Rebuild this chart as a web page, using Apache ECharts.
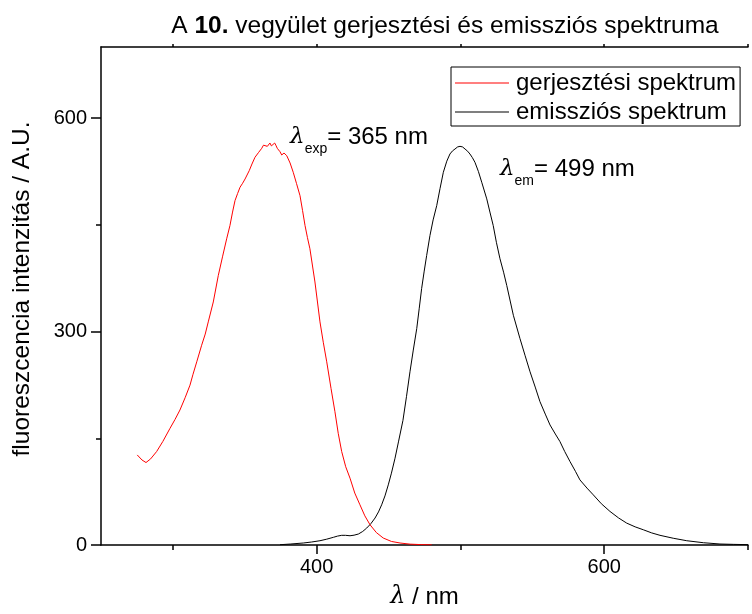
<!DOCTYPE html>
<html>
<head>
<meta charset="utf-8">
<script src="https://cdn.jsdelivr.net/npm/echarts@6/dist/echarts.min.js"></script>
<style>html,body{margin:0;padding:0;background:#fff}#c{width:752px;height:614px}</style>
</head>
<body>
<div id="c"></div>
<script>
// Excitation spectrum (wavelength nm, intensity)
const excX = [275.2,278.5,281.3,284.5,288.7,293.0,298.0,301.5,304.9,308.5,311.9,314.0,316.6,320.0,322.5,324.6,328.1,331.6,334.5,337.4,339.7,341.5,343.2,345.0,346.7,348.5,350.2,353.1,355.0,357.1,359.5,361.8,363.0,364.1,365.7,366.5,367.5,368.5,369.4,370.8,371.6,372.6,374.5,375.7,377.3,379.2,381.5,383.7,386.0,388.4,390.2,391.9,393.6,395.3,398.8,402.3,404.6,407.0,410.0,412.7,415.0,417.4,420.2,423.2,426.5,430.1,433.5,437.1,441.5,446.3,452.0,458.0,465.0,472.0,480.0];
const excY = [126.6,119.5,115.9,121.0,131.4,145.5,164.0,176.5,189.7,207.0,224.7,240.0,257.5,280.8,296.5,313.6,341.6,379.0,405.0,430.4,449.1,468.0,484.1,494.0,502.9,508.5,514.5,526.2,535.5,545.0,551.5,557.6,562.0,563.6,560.4,563.0,565.0,561.0,559.0,565.0,562.0,557.6,552.8,548.2,551.0,547.2,537.0,523.9,508.0,491.1,470.0,449.1,432.0,416.4,369.7,313.6,285.0,257.5,220.0,187.4,157.0,131.4,110.0,93.9,73.0,56.5,41.0,28.5,17.5,9.8,5.0,2.8,1.2,0.6,0.2];
// Emission spectrum
const emX = [374.5,382.0,390.7,396.5,402.3,407.0,411.6,414.5,417.4,420.0,423.2,426.0,429.0,432.0,434.8,437.7,440.6,443.0,445.2,447.5,449.8,452.0,454.5,457.0,460.0,462.5,464.9,467.2,469.6,471.3,473.0,474.8,476.5,478.8,481.0,483.5,485.8,488.1,490.5,492.7,494.5,496.2,498.0,499.7,501.5,503.2,505.0,506.6,508.3,510.1,512.5,514.8,518.3,520.5,522.8,525.0,527.5,530.0,532.2,536.8,541.4,545.0,548.4,552.0,555.3,559.0,562.3,566.0,569.2,572.5,576.2,580.0,583.1,588.0,592.4,598.0,604.0,610.0,615.6,621.5,627.2,633.0,638.8,648.0,657.4,669.0,680.5,690.0,700.0];
const emY = [0.4,1.4,2.8,4.2,6.0,8.2,10.8,12.5,13.6,13.6,13.0,13.8,15.4,19.0,23.8,30.0,37.9,46.5,56.5,69.0,84.5,101.0,122.0,146.0,175.0,209.0,243.5,274.0,304.2,332.0,360.3,385.0,407.0,435.0,457.0,477.1,501.0,523.9,539.5,549.6,554.0,556.6,559.5,560.4,559.5,556.6,553.5,549.6,544.5,537.9,525.0,509.9,486.5,468.0,449.0,425.5,402.4,383.5,364.9,322.9,290.2,266.0,243.5,222.0,201.5,184.0,168.7,156.0,145.4,131.5,117.3,103.5,91.5,80.0,70.5,58.0,47.2,38.0,30.8,25.5,21.4,17.0,13.6,9.5,6.0,3.2,1.4,0.9,0.5];
const xLabelTicks = [400, 600];
const xMinorTicks = [300, 500, 700];
const yLabelTicks = [0, 300, 600];
const yMinorTicks = [150, 450];
const seriesNames = ['gerjesztési spektrum', 'emissziós spektrum'];
const titleParts = ['A ', '10.', ' vegyület gerjesztési és emissziós spektruma'];
const annExc = {x: 381.5, y: 573, sub: 'exp', text: '= 365 nm'};
const annEm = {x: 527.5, y: 528, sub: 'em', text: '= 499 nm'};

const F = 'Arial, "Liberation Sans", Helvetica, sans-serif';
const chart = echarts.init(document.getElementById('c'), null, {renderer: 'canvas'});
const pairs = (xs, ys) => xs.map((v, i) => [v, ys[i]]);
const axisLineStyle = {color: '#000', width: 1.5};
const option = {
  animation: false,
  backgroundColor: '#fff',
  title: {
    text: '{n|' + titleParts[0] + '}{b|' + titleParts[1] + '}{n|' + titleParts[2] + '}',
    left: 440, top: 9, textAlign: 'center',
    textStyle: {fontWeight: 'normal', rich: {
      n: {fontFamily: F, fontSize: 24.5, fontWeight: 'normal', color: '#000'},
      b: {fontFamily: F, fontSize: 24.5, fontWeight: 'bold', color: '#000'}
    }}
  },
  legend: {
    left: 451, top: 67, orient: 'vertical',
    icon: 'rect', itemWidth: 54, itemHeight: 1.2, itemGap: 5,
    borderColor: '#000', borderWidth: 1, padding: [4, 4, 2, 4],
    backgroundColor: '#fff',
    textStyle: {fontFamily: F, fontSize: 24, color: '#000', padding: [0, 0, 0, 2]},
    data: seriesNames
  },
  grid: {left: 101, right: 4, top: 47, bottom: 67, containLabel: false},
  xAxis: [
    {type: 'value', min: 250, max: 700, position: 'bottom',
     name: '{i|λ} / nm', nameLocation: 'middle', nameGap: 40,
     nameTextStyle: {fontFamily: F, fontSize: 24, color: '#000', rich: {i: {fontFamily: 'DejaVu Serif', fontStyle: 'italic', fontSize: 24, color: '#000'}}},
     axisLine: {show: true, lineStyle: axisLineStyle},
     axisTick: {show: true, length: 9, lineStyle: {color: '#000', width: 1.5}, customValues: xLabelTicks},
     axisLabel: {customValues: xLabelTicks, fontFamily: F, fontSize: 20, color: '#000', margin: 12},
     splitLine: {show: false}},
    {type: 'value', min: 250, max: 700, position: 'bottom',
     axisLine: {show: false},
     axisTick: {show: true, length: 5, lineStyle: {color: '#000', width: 1.5}, customValues: xMinorTicks},
     axisLabel: {show: false}, splitLine: {show: false}},
    {type: 'value', min: 250, max: 700, position: 'top',
     axisLine: {show: true, lineStyle: axisLineStyle},
     axisTick: {show: true, length: 3, lineStyle: {color: '#000', width: 1.5}, customValues: xMinorTicks.concat(xLabelTicks)},
     axisLabel: {show: false}, splitLine: {show: false}}
  ],
  yAxis: [
    {type: 'value', min: 0, max: 700, position: 'left',
     name: 'fluoreszcencia intenzitás / A.U.', nameLocation: 'middle', nameGap: 66,
     nameTextStyle: {fontFamily: F, fontSize: 24.5, color: '#000', padding: [0, 0, 0, 14]},
     axisLine: {show: true, lineStyle: axisLineStyle},
     axisTick: {show: true, length: 10, lineStyle: {color: '#000', width: 1.5}, customValues: yLabelTicks},
     axisLabel: {customValues: yLabelTicks, fontFamily: F, fontSize: 20, color: '#000', margin: 14},
     splitLine: {show: false}},
    {type: 'value', min: 0, max: 700, position: 'left',
     axisLine: {show: false},
     axisTick: {show: true, length: 5, lineStyle: {color: '#000', width: 1.5}, customValues: yMinorTicks},
     axisLabel: {show: false}, splitLine: {show: false}}
  ],
  series: [
    {name: seriesNames[0], type: 'line', data: pairs(excX, excY), showSymbol: false, symbol: 'none',
     lineStyle: {color: '#ff0000', width: 1}, itemStyle: {color: '#ff0000'}, xAxisIndex: 0, yAxisIndex: 0, z: 3},
    {name: seriesNames[1], type: 'line', data: pairs(emX, emY), showSymbol: false, symbol: 'none',
     lineStyle: {color: '#000', width: 1}, itemStyle: {color: '#000'}, xAxisIndex: 0, yAxisIndex: 0, z: 2}
  ]
};
chart.setOption(option);

function annot(a) {
  const p = chart.convertToPixel({xAxisIndex: 0, yAxisIndex: 0}, [a.x, a.y]);
  return {
    type: 'text', x: p[0], y: p[1],
    style: {
      text: '{l|λ}{s|' + a.sub + '}{t|' + a.text + '}',
      verticalAlign: 'middle',
      rich: {
        l: {fontFamily: 'DejaVu Serif', fontStyle: 'italic', fontSize: 23, fill: '#000', verticalAlign: 'middle', lineHeight: 38},
        s: {fontFamily: F, fontSize: 14, fill: '#000', verticalAlign: 'bottom', lineHeight: 38},
        t: {fontFamily: F, fontSize: 24, fill: '#000', verticalAlign: 'middle', lineHeight: 38}
      }
    }
  };
}
chart.setOption({graphic: [annot(annExc), annot(annEm)]});
</script>
</body>
</html>
